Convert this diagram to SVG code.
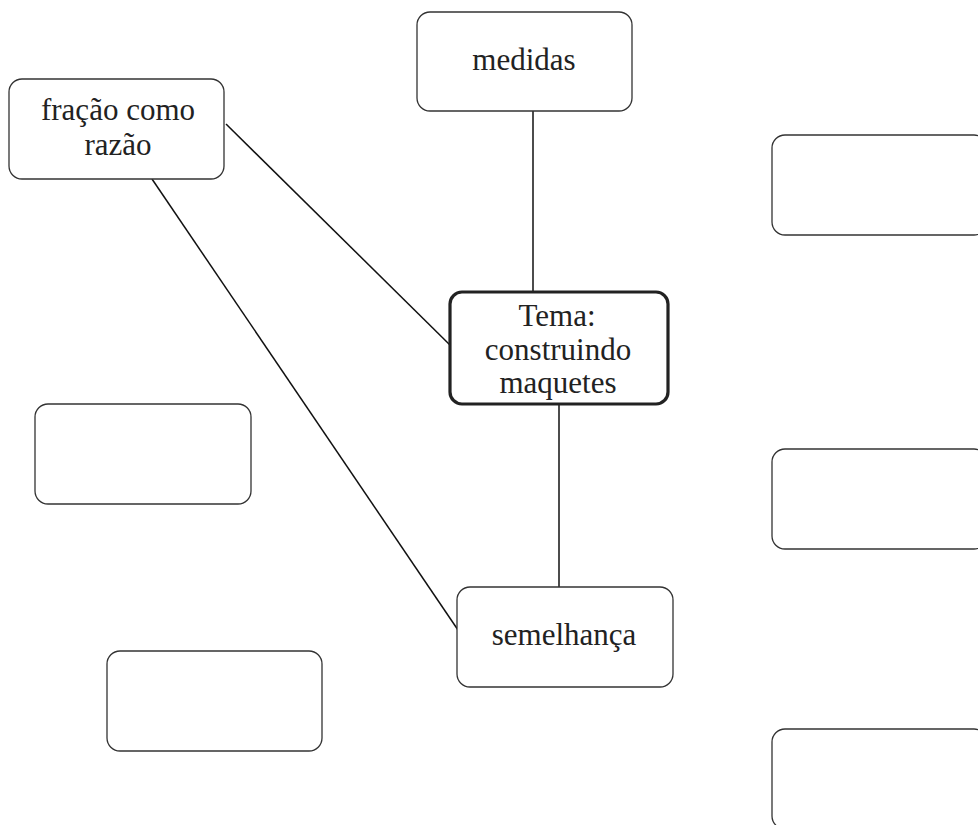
<svg xmlns="http://www.w3.org/2000/svg" width="978" height="825" viewBox="0 0 978 825">
<style>
.box{fill:#fff;stroke:#333;stroke-width:1.3}
.main{fill:#fff;stroke:#222;stroke-width:3.2}
.lbl{font-family:"Liberation Serif","Times New Roman",serif;font-size:31px;fill:#222;text-anchor:middle}
.conn line{stroke:#111;stroke-width:1.5}
</style>
<rect width="978" height="825" fill="#fff"/>
<g class="conn" id="connectors">
<line x1="533" y1="111" x2="533" y2="292"/>
<line x1="559" y1="404" x2="559" y2="587"/>
<line x1="226" y1="124" x2="451" y2="346"/>
<line x1="152" y1="179" x2="458" y2="630"/>
</g>
<g id="fracao"><rect class="box" x="9" y="79" width="215" height="100" rx="13"/>
<text class="lbl" x="118" y="120">fração como</text><text class="lbl" x="118" y="155">razão</text></g>
<g id="medidas"><rect class="box" x="417" y="12" width="215" height="99" rx="13"/>
<text class="lbl" x="524" y="70">medidas</text></g>
<g id="tema"><rect class="main" x="450" y="292" width="218" height="112" rx="12"/>
<text class="lbl" x="557" y="326">Tema:</text><text class="lbl" x="558" y="360">construindo</text><text class="lbl" x="558" y="393">maquetes</text></g>
<g id="semelhanca"><rect class="box" x="457" y="587" width="216" height="100" rx="13"/>
<text class="lbl" x="564" y="645">semelhança</text></g>
<g id="empty-left-1"><rect class="box" x="35" y="404" width="216" height="100" rx="13"/></g>
<g id="empty-left-2"><rect class="box" x="107" y="651" width="215" height="100" rx="13"/></g>
<g id="empty-right-1"><rect class="box" x="772" y="135" width="215" height="100" rx="13"/></g>
<g id="empty-right-2"><rect class="box" x="772" y="449" width="215" height="100" rx="13"/></g>
<g id="empty-right-3"><rect class="box" x="772" y="729" width="215" height="100" rx="13"/></g>
</svg>
